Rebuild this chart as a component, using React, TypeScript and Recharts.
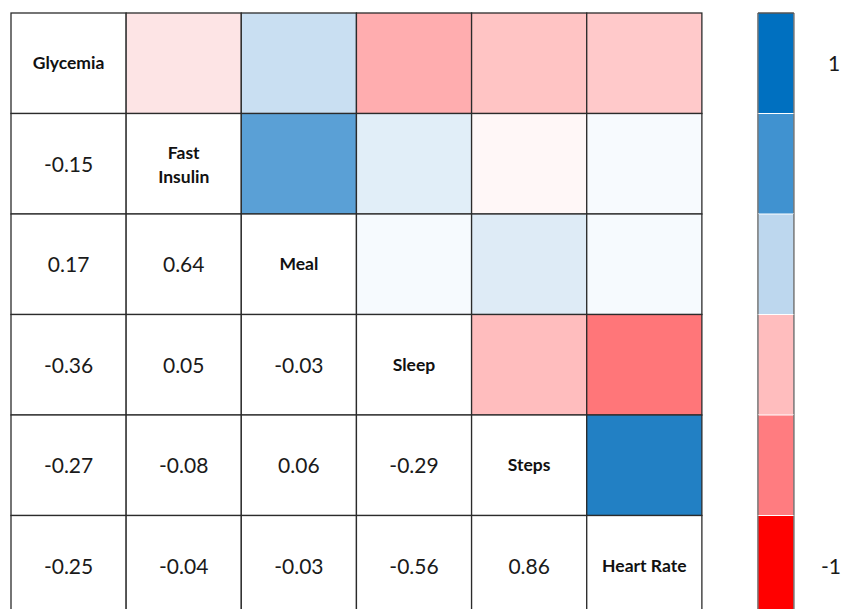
import React from "react";
import { ScatterChart, Scatter, XAxis, YAxis } from "recharts";

// variables on the diagonal
const variables = ["Glycemia", "Fast Insulin", "Meal", "Sleep", "Steps", "Heart Rate"];

// lower triangle of the correlation matrix, one array per row
const rowFastInsulin = [-0.15];
const rowMeal = [0.17, 0.64];
const rowSleep = [-0.36, 0.05, -0.03];
const rowSteps = [-0.27, -0.08, 0.06, -0.29];
const rowHeartRate = [-0.25, -0.04, -0.03, -0.56, 0.86];

const lowerRows = [[], rowFastInsulin, rowMeal, rowSleep, rowSteps, rowHeartRate];

// colour bar: 6 steps from 1 (top) to -1 (bottom)
const colorbarTicks = [0.5, 5.5];
const colorbarLabels = ["1", "-1"];

// styling
const colorbarFills = ["#0070C0", "#4092D0", "#BDD7EE", "#FFBDBE", "#FF7C80", "#FF0000"];
const upperFills = [
  ["#FDE4E5", "#C9DFF2", "#FFADAF", "#FFC4C4", "#FFC9CA"],
  ["#5AA0D6", "#E1EEF8", "#FFF7F7", "#F7FAFE"],
  ["#F6FAFE", "#DEEBF6", "#F6FAFE"],
  ["#FFBDBE", "#FF7679"],
  ["#2280C4"],
];

const MARGIN = { top: 13, right: 0, left: 11, bottom: 0 };
const CHART_W = 842;
const CHART_H = 616;
const AXIS_W = 48;
const X_MAX = 6.8;
const UNIT_W = (CHART_W - MARGIN.left - AXIS_W) / X_MAX;
const UNIT_H = (CHART_H - MARGIN.top - MARGIN.bottom) / 6;
const BAR_X = 6.643;
const BAR_W = 36;
const FONT = "Lato, 'Open Sans', sans-serif";

type CellDatum = {
  x: number;
  y: number;
  kind: "label" | "value" | "color";
  text?: string;
  fill?: string;
};

const cells: CellDatum[] = [];
variables.forEach((name, i) => {
  variables.forEach((_, j) => {
    const base = { x: j + 0.5, y: i + 0.5 };
    if (i === j) cells.push({ ...base, kind: "label", text: name });
    else if (i > j) cells.push({ ...base, kind: "value", text: lowerRows[i][j].toFixed(2) });
    else cells.push({ ...base, kind: "color", fill: upperFills[i][j - i - 1] });
  });
});

const colorbar = colorbarFills.map((fill, i) => ({ x: BAR_X, y: i + 0.5, fill }));

const CellShape = (props: any) => {
  const { cx, cy, payload } = props;
  const d = payload as CellDatum;
  const x = cx - UNIT_W / 2;
  const y = cy - UNIT_H / 2;
  let content: React.ReactNode = null;
  if (d.kind === "value") {
    content = (
      <text x={cx} y={cy + 8} textAnchor="middle" fontFamily={FONT} fontSize={21} fill="#1a1a1a">
        {d.text}
      </text>
    );
  } else if (d.kind === "label") {
    const words = d.text === "Fast Insulin" ? ["Fast", "Insulin"] : [d.text];
    content = (
      <text textAnchor="middle" fontFamily={FONT} fontSize={17.5} fontWeight={700} fill="#111">
        {words.map((w, k) => (
          <tspan key={k} x={cx} y={words.length === 1 ? cy + 6 : cy - 5 + k * 24}>
            {w}
          </tspan>
        ))}
      </text>
    );
  }
  return (
    <g>
      <rect
        x={x}
        y={y}
        width={UNIT_W}
        height={UNIT_H}
        fill={d.kind === "color" ? d.fill : "#fff"}
        stroke="#2b2b2b"
        strokeWidth={1.3}
      />
      {content}
    </g>
  );
};

const BarShape = (props: any) => {
  const { cx, cy, payload, index } = props;
  const x = cx - BAR_W / 2;
  const y = cy - UNIT_H / 2;
  const last = colorbarFills.length - 1;
  return (
    <g>
      <rect x={x} y={y} width={BAR_W} height={UNIT_H} fill={payload.fill} />
      {index > 0 && <line x1={x} x2={x + BAR_W} y1={y} y2={y} stroke="#fff" strokeWidth={1.2} />}
      <line x1={x} x2={x} y1={y} y2={y + UNIT_H} stroke="#777" strokeWidth={1.5} />
      <line x1={x + BAR_W} x2={x + BAR_W} y1={y} y2={y + UNIT_H} stroke="#777" strokeWidth={1.5} />
      {index === 0 && <line x1={x} x2={x + BAR_W} y1={y} y2={y} stroke="#555" strokeWidth={1.5} />}
      {index === last && (
        <line x1={x} x2={x + BAR_W} y1={y + UNIT_H} y2={y + UNIT_H} stroke="#555" strokeWidth={1.5} />
      )}
    </g>
  );
};

const BarTick = (props: any) => {
  const { y, payload } = props;
  const idx = colorbarTicks.indexOf(payload.value);
  return (
    <text x={idx === 0 ? 834 : 831} y={y + 8} textAnchor="middle" fontFamily={FONT} fontSize={21} fill="#1a1a1a">
      {colorbarLabels[idx]}
    </text>
  );
};

export default function App() {
  return (
    <div
      style={{
        position: "absolute",
        left: 0,
        top: 0,
        width: CHART_W,
        height: 609,
        overflow: "hidden",
        background: "#fff",
      }}
    >
      <ScatterChart width={CHART_W} height={CHART_H} margin={MARGIN}>
        <XAxis type="number" dataKey="x" domain={[0, X_MAX]} hide />
        <YAxis
          type="number"
          dataKey="y"
          domain={[0, 6]}
          reversed
          orientation="right"
          width={AXIS_W}
          ticks={colorbarTicks}
          tick={<BarTick />}
          axisLine={false}
          tickLine={false}
          interval={0}
        />
        <Scatter data={cells} shape={<CellShape />} isAnimationActive={false} />
        <Scatter data={colorbar} shape={<BarShape />} isAnimationActive={false} />
      </ScatterChart>
    </div>
  );
}
